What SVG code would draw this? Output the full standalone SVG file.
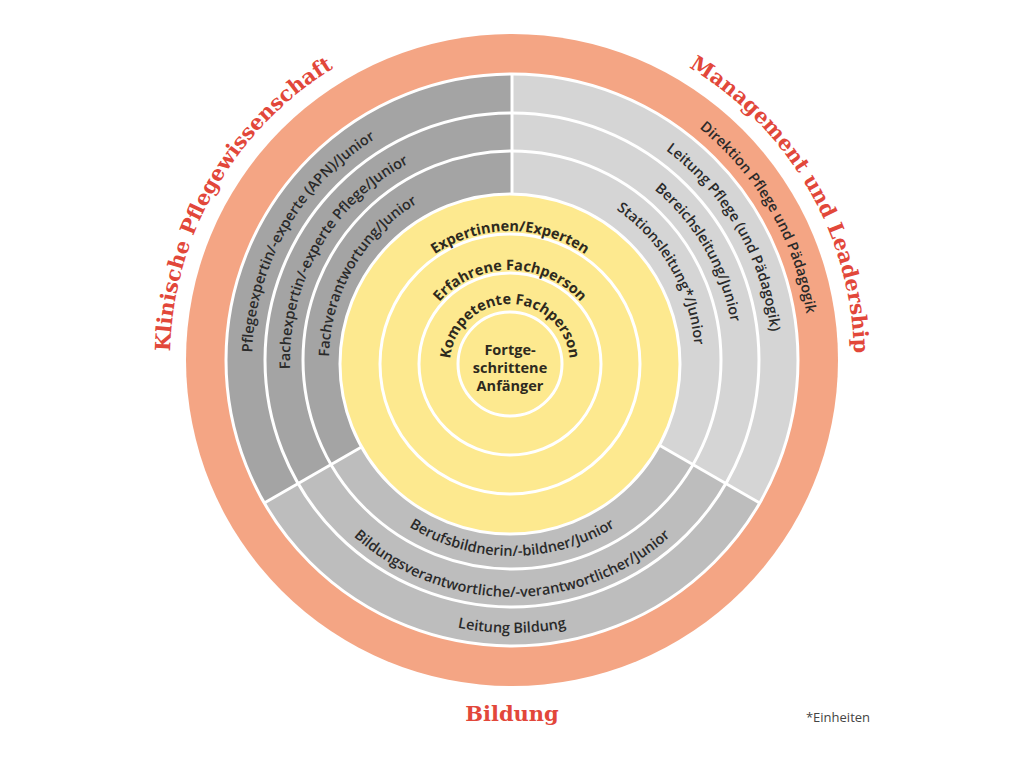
<svg xmlns="http://www.w3.org/2000/svg" xmlns:xlink="http://www.w3.org/1999/xlink" width="1024" height="768" viewBox="0 0 1024 768">
<style>
.lbl{font-family:"Open Sans","Noto Sans",sans-serif;font-weight:600;font-size:14.5px;fill:#2a2a2a}
.yl{font-family:"Open Sans","Noto Sans",sans-serif;font-weight:700;font-size:14.5px;fill:#2e2a1e}
.ttl{font-family:"DejaVu Serif","Liberation Serif",serif;font-weight:bold;font-size:21px;fill:#e2473a}
.ring{fill:none;stroke:#fff;stroke-width:3}
</style>
<defs>
<path id="l260" d="M382,585.2 A260 260 0 0 1 642,134.8"/>
<path id="l222" d="M401,552.3 A222 222 0 0 1 623,167.7"/>
<path id="l183" d="M420.5,518.5 A183 183 0 0 1 603.5,201.5"/>
<path id="r298" d="M363,101.9 A298 298 0 0 1 661,618.1"/>
<path id="r260" d="M382,134.8 A260 260 0 0 1 642,585.2"/>
<path id="r222" d="M401,167.7 A222 222 0 0 1 623,552.3"/>
<path id="r183" d="M420.5,201.5 A183 183 0 0 1 603.5,518.5"/>
<path id="b196" d="M316,360 A196 196 0 0 0 708,360"/>
<path id="b237" d="M275,360 A237 237 0 0 0 749,360"/>
<path id="b273" d="M239,360 A273 273 0 0 0 785,360"/>
<path id="y133" d="M377,364 A133 133 0 0 1 643,364"/>
<path id="y94" d="M416,364 A94 94 0 0 1 604,364"/>
<path id="y60" d="M450,364 A60 60 0 0 1 570,364"/>
<path id="tl" d="M341,656.2 A342 342 0 0 1 683,63.8"/>
<path id="tr" d="M341,63.8 A342 342 0 0 1 683,656.2"/>
</defs>
<rect width="1024" height="768" fill="#fff"/>
<g id="outer">
<circle cx="512" cy="360" r="326" fill="#f4a584"/>
</g>
<g id="sector-left">
<path d="M512,360 L264.3,503 A286 286 0 0 1 512,74 Z" fill="#a4a4a4"/>
</g>
<g id="sector-right">
<path d="M512,360 L512,74 A286 286 0 0 1 759.7,503 Z" fill="#d5d5d5"/>
</g>
<g id="sector-bottom">
<path d="M512,360 L759.7,503 A286 286 0 0 1 264.3,503 Z" fill="#bdbdbd"/>
</g>
<g id="rings">
<circle class="ring" cx="512" cy="360" r="286"/>
<circle class="ring" cx="512" cy="360" r="247"/>
<circle class="ring" cx="512" cy="360" r="209"/>
</g>
<g id="connectors" stroke="#fff" stroke-width="3">
<line x1="512" y1="74" x2="512" y2="200"/>
<line x1="659" y1="445" x2="759.7" y2="503"/>
<line x1="365" y1="445" x2="264.3" y2="503"/>
</g>
<g id="yellow">
<circle cx="510" cy="364" r="170" fill="#fde98f" stroke="#fff" stroke-width="3"/>
<circle class="ring" cx="510" cy="364" r="130"/>
<circle class="ring" cx="510" cy="364" r="91"/>
<circle class="ring" cx="510" cy="364" r="52"/>
</g>
<g id="labels-left">
<text class="lbl"><textPath xlink:href="#l260" startOffset="50%" text-anchor="middle">Pflegeexpertin/-experte (APN)/Junior</textPath></text>
<text class="lbl"><textPath xlink:href="#l222" startOffset="50%" text-anchor="middle">Fachexpertin/-experte Pflege/Junior</textPath></text>
<text class="lbl"><textPath xlink:href="#l183" startOffset="50%" text-anchor="middle">Fachverantwortung/Junior</textPath></text>
</g>
<g id="labels-right">
<text class="lbl"><textPath xlink:href="#r298" startOffset="50%" text-anchor="middle">Direktion Pflege und Pädagogik</textPath></text>
<text class="lbl"><textPath xlink:href="#r260" startOffset="50%" text-anchor="middle">Leitung Pflege (und Pädagogik)</textPath></text>
<text class="lbl"><textPath xlink:href="#r222" startOffset="50%" text-anchor="middle">Bereichsleitung/Junior</textPath></text>
<text class="lbl"><textPath xlink:href="#r183" startOffset="50%" text-anchor="middle">Stationsleitung*/Junior</textPath></text>
</g>
<g id="labels-bottom">
<text class="lbl"><textPath xlink:href="#b196" startOffset="50%" text-anchor="middle">Berufsbildnerin/-bildner/Junior</textPath></text>
<text class="lbl"><textPath xlink:href="#b237" startOffset="50%" text-anchor="middle">Bildungsverantwortliche/-verantwortlicher/Junior</textPath></text>
<text class="lbl"><textPath xlink:href="#b273" startOffset="50%" text-anchor="middle">Leitung Bildung</textPath></text>
</g>
<g id="labels-yellow">
<text class="yl"><textPath xlink:href="#y133" startOffset="50%" text-anchor="middle">Expertinnen/Experten</textPath></text>
<text class="yl"><textPath xlink:href="#y94" startOffset="50%" text-anchor="middle">Erfahrene Fachperson</textPath></text>
<text class="yl"><textPath xlink:href="#y60" startOffset="50%" text-anchor="middle">Kompetente Fachperson</textPath></text>
<text class="yl" text-anchor="middle"><tspan x="510" y="355">Fortge-</tspan><tspan x="510" y="373">schrittene</tspan><tspan x="510" y="391">Anfänger</tspan></text>
</g>
<g id="titles">
<text class="ttl"><textPath xlink:href="#tl" startOffset="50%" text-anchor="middle">Klinische Pflegewissenschaft</textPath></text>
<text class="ttl"><textPath xlink:href="#tr" startOffset="50%" text-anchor="middle">Management und Leadership</textPath></text>
<text class="ttl" x="512" y="721" text-anchor="middle">Bildung</text>
<text x="838" y="722" text-anchor="middle" font-family="Open Sans, sans-serif" font-size="13" fill="#444">*Einheiten</text>
</g>
</svg>
